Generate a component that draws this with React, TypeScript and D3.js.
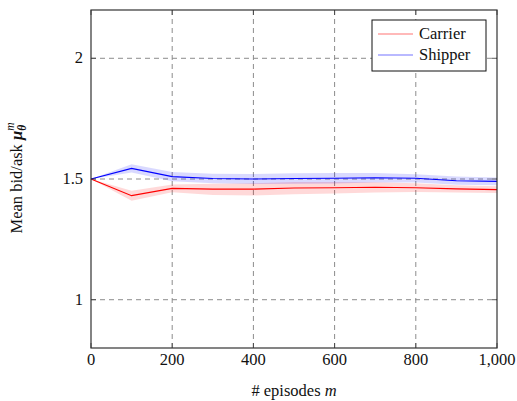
import React from "react";
import * as d3 from "d3";

// Training episodes at which the mean bid/ask was evaluated
const episodes = [0, 100, 200, 300, 400, 500, 600, 700, 800, 900, 1000];

// Carrier: mean bid and its confidence band
const carrierMean = [1.5, 1.431, 1.461, 1.458, 1.458, 1.463, 1.464, 1.466, 1.464, 1.459, 1.456];
const carrierLow = [1.5, 1.41, 1.445, 1.434, 1.432, 1.437, 1.44, 1.444, 1.446, 1.444, 1.442];
const carrierHigh = [1.5, 1.451, 1.477, 1.48, 1.482, 1.488, 1.488, 1.487, 1.482, 1.474, 1.47];

// Shipper: mean ask and its confidence band
const shipperMean = [1.5, 1.544, 1.51, 1.502, 1.5, 1.502, 1.503, 1.505, 1.503, 1.493, 1.49];
const shipperLow = [1.5, 1.527, 1.491, 1.482, 1.479, 1.48, 1.481, 1.485, 1.486, 1.476, 1.474];
const shipperHigh = [1.5, 1.561, 1.529, 1.522, 1.521, 1.524, 1.525, 1.525, 1.52, 1.51, 1.506];

const xTicks = [0, 200, 400, 600, 800, 1000];
const yTicks = [1, 1.5, 2];

const series = [
  { name: "Carrier", color: "#ff0000", mean: carrierMean, low: carrierLow, high: carrierHigh },
  { name: "Shipper", color: "#0000ff", mean: shipperMean, low: shipperLow, high: shipperHigh },
];

const W = 517;
const H = 401;
const left = 91;
const right = 497;
const top = 10;
const bottom = 348;
const font = "Liberation Serif";
const fs = 16.5;

export default function App() {
  const x = d3.scaleLinear().domain([0, 1000]).range([left, right]);
  const y = d3.scaleLinear().domain([0.8, 2.2]).range([bottom, top]);

  const line = d3
    .line<number>()
    .x((_, i) => x(episodes[i]))
    .y((v) => y(v));

  const band = (low: number[], high: number[]) =>
    d3
      .area<number>()
      .x((_, i) => x(episodes[i]))
      .y0((_, i) => y(low[i]))
      .y1((_, i) => y(high[i]))(episodes) || "";

  const fmt = d3.format(",");

  return (
    <svg
      width={W}
      height={H}
      viewBox={`0 0 ${W} ${H}`}
      style={{ position: "absolute", left: 0, top: 0, background: "#fff" }}
    >
      <rect x={0} y={0} width={W} height={H} fill="#fff" />

      {/* grid */}
      <g stroke="#8c8c8c" strokeWidth={1} strokeDasharray="5 4">
        {xTicks
          .filter((t) => t > 0 && t < 1000)
          .map((t) => (
            <line key={"gx" + t} x1={x(t)} x2={x(t)} y1={top} y2={bottom} />
          ))}
        {yTicks.map((t) => (
          <line key={"gy" + t} x1={left} x2={right} y1={y(t)} y2={y(t)} />
        ))}
      </g>

      {/* confidence bands */}
      {series.map((s) => (
        <path key={"b" + s.name} d={band(s.low, s.high)} fill={s.color} fillOpacity={0.15} stroke="none" />
      ))}

      {/* mean lines */}
      {series.map((s) => (
        <path key={"l" + s.name} d={line(s.mean) || ""} fill="none" stroke={s.color} strokeWidth={1.1} />
      ))}

      {/* ticks */}
      <g stroke="#333" strokeWidth={0.8}>
        {xTicks.map((t) => (
          <g key={"tx" + t}>
            <line x1={x(t)} x2={x(t)} y1={bottom} y2={bottom - 5} />
            <line x1={x(t)} x2={x(t)} y1={top} y2={top + 5} />
          </g>
        ))}
        {yTicks.map((t) => (
          <g key={"ty" + t}>
            <line x1={left} x2={left + 5} y1={y(t)} y2={y(t)} />
            <line x1={right} x2={right - 5} y1={y(t)} y2={y(t)} />
          </g>
        ))}
      </g>

      {/* frame */}
      <rect x={left} y={top} width={right - left} height={bottom - top} fill="none" stroke="#333" strokeWidth={1.2} />

      {/* tick labels */}
      <g fontFamily={font} fontSize={fs} fill="#111">
        {xTicks.map((t) => (
          <text key={"lx" + t} x={x(t)} y={365} textAnchor="middle">
            {fmt(t)}
          </text>
        ))}
        {yTicks.map((t) => (
          <text key={"ly" + t} x={83} y={y(t) + 5} textAnchor="end">
            {String(t)}
          </text>
        ))}
      </g>

      {/* axis titles */}
      <text x={(left + right) / 2} y={396} textAnchor="middle" fontFamily={font} fontSize={fs} fill="#111">
        # episodes <tspan fontStyle="italic">m</tspan>
      </text>
      <text
        transform={`translate(22, 178) rotate(-90)`}
        textAnchor="middle"
        fontFamily={font}
        fontSize={fs}
        fill="#111"
      >
        Mean bid/ask{" "}
        <tspan fontStyle="italic" fontWeight="bold">μ</tspan>
        <tspan fontStyle="italic" fontWeight="bold" fontSize={11.5} dy={4}>θ</tspan>
        <tspan fontStyle="italic" fontSize={11.5} dy={-12} dx={-6}>m</tspan>
      </text>

      {/* legend */}
      <g>
        <rect x={372} y={20} width={114} height={51} fill="#fff" stroke="#111" strokeWidth={1} />
        {series.map((s, i) => (
          <g key={"lg" + s.name}>
            <line
              x1={378}
              x2={413}
              y1={34 + i * 21}
              y2={34 + i * 21}
              stroke={s.color}
              strokeOpacity={0.55}
              strokeWidth={1.2}
            />
            <text x={419} y={39 + i * 21} fontFamily={font} fontSize={fs} fill="#111">
              {s.name}
            </text>
          </g>
        ))}
      </g>
    </svg>
  );
}
